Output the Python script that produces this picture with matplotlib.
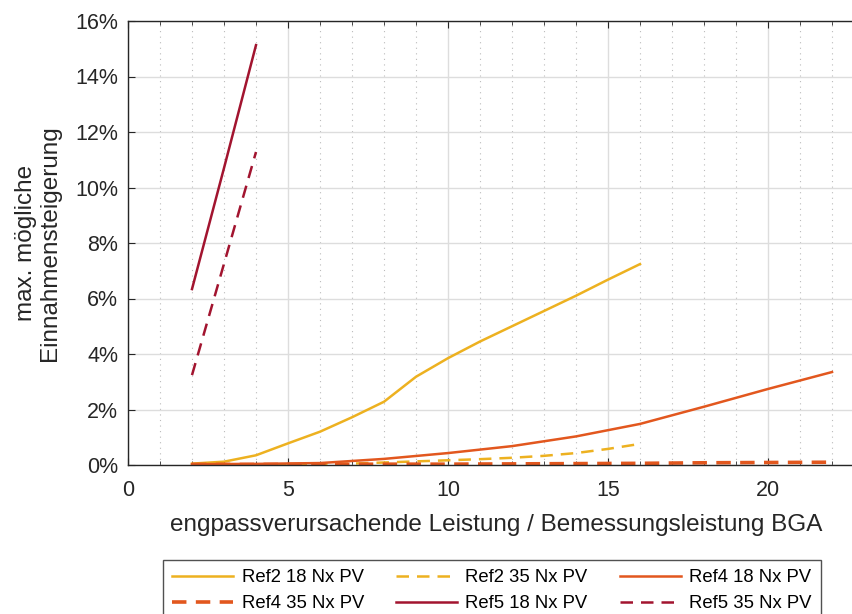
import numpy as np
import matplotlib
matplotlib.use("Agg")
import matplotlib.pyplot as plt
from matplotlib.ticker import MultipleLocator, PercentFormatter

plt.rcParams['font.family'] = ['Liberation Sans', 'DejaVu Sans']

# x values: engpassverursachende Leistung / Bemessungsleistung
x_ref2 = [2, 3, 4, 5, 6, 7, 8, 9, 10, 11, 12, 13, 14, 15, 16]
ref2_18 = [0.05, 0.12, 0.35, 0.78, 1.2, 1.72, 2.28, 3.18, 3.85, 4.45, 5.0, 5.55, 6.1, 6.68, 7.24]
ref2_35 = [0.0, 0.0, 0.0, 0.0, 0.02, 0.05, 0.09, 0.13, 0.17, 0.21, 0.26, 0.33, 0.43, 0.58, 0.76]

x_ref4 = [2, 4, 6, 8, 10, 12, 14, 16, 18, 20, 22]
ref4_18 = [0.03, 0.04, 0.07, 0.22, 0.43, 0.68, 1.03, 1.48, 2.1, 2.74, 3.35]
ref4_35 = [0.02, 0.02, 0.02, 0.03, 0.03, 0.04, 0.05, 0.06, 0.08, 0.09, 0.1]

x_ref5 = [2, 3, 4]
ref5_18 = [6.34, 10.7, 15.13]
ref5_35 = [3.24, 7.25, 11.28]

labels = ["Ref2 18 Nx PV", "Ref2 35 Nx PV", "Ref4 18 Nx PV",
          "Ref4 35 Nx PV", "Ref5 18 Nx PV", "Ref5 35 Nx PV"]

c_ref2 = "#EDB120"
c_ref4 = "#E2571E"
c_ref5 = "#A2142F"

W, H = 853, 614
fig = plt.figure(figsize=(W / 100, H / 100), dpi=100)
ax = fig.add_axes([128 / W, 1 - 465 / H, (864 - 128) / W, (465 - 21) / H])

lw = 1.8
dash = (5, 3.2)
h1, = ax.plot(x_ref2, ref2_18, color=c_ref2, lw=lw)
h2, = ax.plot(x_ref2, ref2_35, color=c_ref2, lw=lw, ls="--", dashes=dash)
h3, = ax.plot(x_ref4, ref4_18, color=c_ref4, lw=lw)
h4, = ax.plot(x_ref4, ref4_35, color=c_ref4, lw=2.6, ls="--", dashes=(4, 2.6))
h5, = ax.plot(x_ref5, ref5_18, color=c_ref5, lw=lw)
h6, = ax.plot(x_ref5, ref5_35, color=c_ref5, lw=lw, ls="--", dashes=dash)

ax.set_xlim(0, 23)
ax.set_ylim(0, 16)
ax.xaxis.set_major_locator(MultipleLocator(5))
ax.xaxis.set_minor_locator(MultipleLocator(1))
ax.yaxis.set_major_locator(MultipleLocator(2))
ax.yaxis.set_major_formatter(PercentFormatter(decimals=0))

ax.grid(True, which="major", color="#dddddd", lw=1.0)
ax.grid(True, which="minor", axis="x", color="#bbbbbb", lw=0.8, ls=(0, (1, 4)))
ax.set_axisbelow(True)

ax.tick_params(which="both", direction="in", top=True, right=False, colors="#262626",
               labelsize=15.5, labelcolor="#262626")
ax.tick_params(which="major", length=5)
ax.tick_params(which="minor", length=3)
ax.tick_params(axis="x", pad=11)
ax.tick_params(axis="y", pad=7)
for s in ax.spines.values():
    s.set_color("#262626")
    s.set_linewidth(1.0)

ax.set_xlabel("engpassverursachende Leistung / Bemessungsleistung BGA", fontsize=17.5,
              color="#262626", labelpad=9)
ax.set_ylabel("max. mögliche\nEinnahmensteigerung", fontsize=17.5, color="#262626",
              labelpad=10, linespacing=1.15)

# legend fills column-wise, so reorder to get row-wise order
handles = [h1, h2, h3, h4, h5, h6]
order = [0, 3, 1, 4, 2, 5]
leg = fig.legend([handles[i] for i in order], [labels[i] for i in order], ncol=3,
                 loc="upper left", bbox_to_anchor=(163 / W, 1 - 560 / H), fontsize=13.3,
                 frameon=True, fancybox=False, edgecolor="#262626",
                 handlelength=3.3, handletextpad=0.45, columnspacing=1.75,
                 labelspacing=0.5, borderpad=0.5, borderaxespad=0)
leg.get_frame().set_linewidth(1.0)

fig.savefig("out.png", dpi=100)
